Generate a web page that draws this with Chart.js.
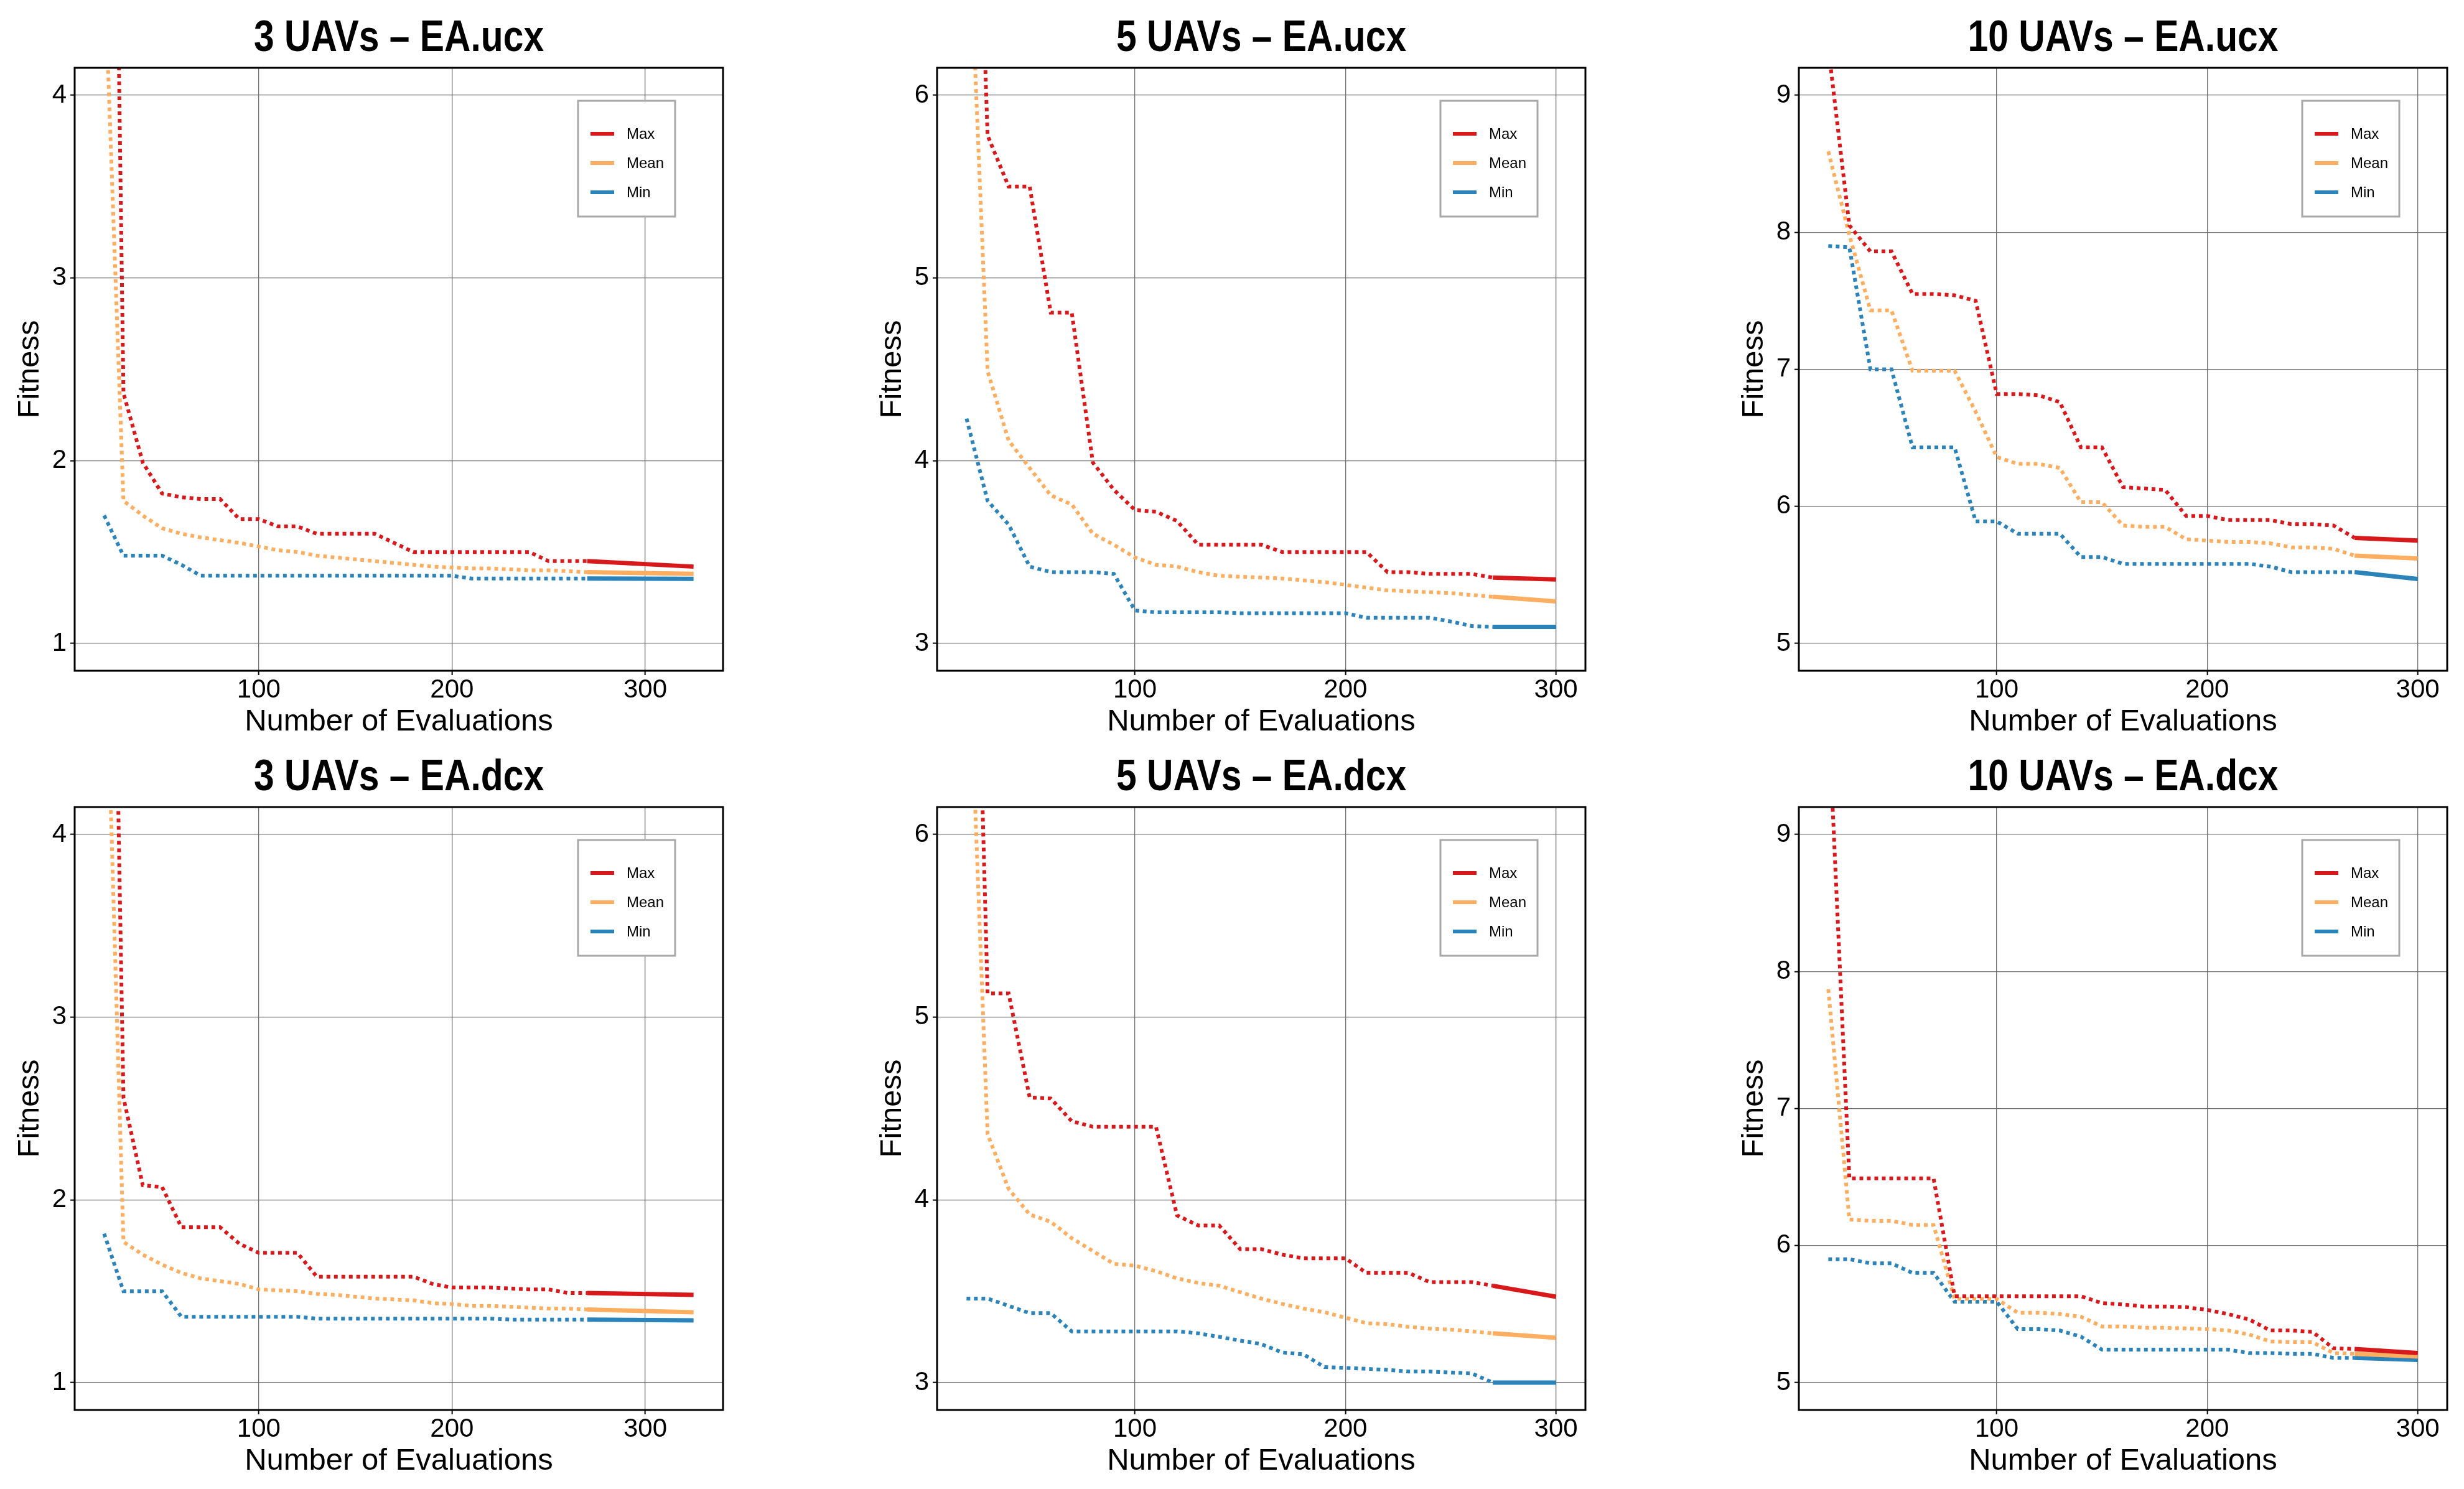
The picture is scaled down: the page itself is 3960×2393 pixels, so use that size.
<!DOCTYPE html>
<html>
<head>
<meta charset="utf-8">
<title>Fitness vs Number of Evaluations – EA.ucx / EA.dcx</title>
<script src="https://cdn.jsdelivr.net/npm/chart.js@4.4.1/dist/chart.umd.min.js"></script>
<style>
  html, body { margin: 0; padding: 0; background: #fff; }
  #figure { position: relative; width: 3960px; height: 2393px; overflow: hidden; }
  #figure canvas { position: absolute; }
</style>
</head>
<body>
<div id="figure"></div>
<script>
// =============================================================================
// DATA
// =============================================================================

// Number of evaluations at which each curve was sampled
const EVALS_3 = [20, 30, 40, 50, 60, 70, 80, 90, 100, 110, 120, 130, 140, 150, 160,
                 170, 180, 190, 200, 210, 220, 230, 240, 250, 260, 270, 325];
const EVALS_5 = [20, 30, 40, 50, 60, 70, 80, 90, 100, 110, 120, 130, 140, 150, 160,
                 170, 180, 190, 200, 210, 220, 230, 240, 250, 260, 270, 300];
const EVALS_10 = EVALS_5;

// 3 UAVs – EA.ucx
const UCX3_MAX  = [10.0, 2.37, 1.99, 1.82, 1.80, 1.79, 1.79, 1.68, 1.68, 1.64, 1.64, 1.60, 1.60, 1.60,
                   1.60, 1.55, 1.50, 1.50, 1.50, 1.50, 1.50, 1.50, 1.50, 1.45, 1.45, 1.45, 1.42];
const UCX3_MEAN = [4.75, 1.78, 1.70, 1.63, 1.60, 1.58, 1.565, 1.55, 1.53, 1.51, 1.50, 1.48, 1.47, 1.46,
                   1.45, 1.44, 1.43, 1.42, 1.415, 1.41, 1.41, 1.405, 1.40, 1.40, 1.395, 1.39, 1.38];
const UCX3_MIN  = [1.70, 1.48, 1.48, 1.48, 1.43, 1.37, 1.37, 1.37, 1.37, 1.37, 1.37, 1.37, 1.37, 1.37,
                   1.37, 1.37, 1.37, 1.37, 1.37, 1.355, 1.355, 1.355, 1.355, 1.355, 1.355, 1.355, 1.353];

// 5 UAVs – EA.ucx
const UCX5_MAX  = [9.2, 5.78, 5.50, 5.50, 4.81, 4.81, 3.99, 3.84, 3.73, 3.72, 3.67, 3.54, 3.54, 3.54,
                   3.54, 3.50, 3.50, 3.50, 3.50, 3.50, 3.39, 3.39, 3.38, 3.38, 3.38, 3.36, 3.35];
const UCX5_MEAN = [7.3, 4.49, 4.11, 3.96, 3.81, 3.76, 3.60, 3.54, 3.47, 3.43, 3.42, 3.39, 3.37, 3.365,
                   3.36, 3.355, 3.345, 3.335, 3.32, 3.305, 3.29, 3.285, 3.28, 3.275, 3.265, 3.255, 3.23];
const UCX5_MIN  = [4.23, 3.78, 3.65, 3.42, 3.39, 3.39, 3.39, 3.38, 3.18, 3.17, 3.17, 3.17, 3.17, 3.165,
                   3.165, 3.165, 3.165, 3.165, 3.165, 3.14, 3.14, 3.14, 3.14, 3.12, 3.095, 3.09, 3.09];

// 10 UAVs – EA.ucx
const UCX10_MAX  = [9.35, 8.05, 7.86, 7.86, 7.55, 7.55, 7.54, 7.50, 6.82, 6.82, 6.81, 6.76, 6.43, 6.43,
                    6.14, 6.13, 6.12, 5.93, 5.93, 5.90, 5.90, 5.90, 5.87, 5.87, 5.86, 5.77, 5.75];
const UCX10_MEAN = [8.59, 7.98, 7.43, 7.43, 6.99, 6.99, 6.99, 6.69, 6.36, 6.31, 6.31, 6.28, 6.03, 6.03,
                    5.86, 5.85, 5.85, 5.76, 5.75, 5.74, 5.74, 5.73, 5.70, 5.70, 5.69, 5.64, 5.62];
const UCX10_MIN  = [7.90, 7.89, 7.00, 7.00, 6.43, 6.43, 6.43, 5.89, 5.89, 5.80, 5.80, 5.80, 5.63, 5.63,
                    5.58, 5.58, 5.58, 5.58, 5.58, 5.58, 5.58, 5.56, 5.52, 5.52, 5.52, 5.52, 5.47];

// 3 UAVs – EA.dcx
const DCX3_MAX  = [8.5, 2.56, 2.08, 2.07, 1.85, 1.85, 1.85, 1.76, 1.71, 1.71, 1.71, 1.58, 1.58, 1.58,
                   1.58, 1.58, 1.58, 1.54, 1.52, 1.52, 1.52, 1.515, 1.51, 1.51, 1.49, 1.49, 1.48];
const DCX3_MEAN = [5.4, 1.77, 1.70, 1.645, 1.60, 1.57, 1.555, 1.54, 1.51, 1.505, 1.50, 1.485, 1.48, 1.47,
                   1.46, 1.455, 1.45, 1.435, 1.43, 1.42, 1.42, 1.415, 1.41, 1.405, 1.405, 1.40, 1.385];
const DCX3_MIN  = [1.815, 1.50, 1.50, 1.50, 1.36, 1.36, 1.36, 1.36, 1.36, 1.36, 1.36, 1.35, 1.35, 1.35,
                   1.35, 1.35, 1.35, 1.35, 1.35, 1.35, 1.35, 1.345, 1.345, 1.345, 1.345, 1.345, 1.34];

// 5 UAVs – EA.dcx
const DCX5_MAX  = [9.4, 5.13, 5.13, 4.56, 4.555, 4.43, 4.40, 4.40, 4.40, 4.40, 3.915, 3.86, 3.86, 3.73,
                   3.73, 3.70, 3.68, 3.68, 3.68, 3.60, 3.60, 3.60, 3.55, 3.55, 3.55, 3.53, 3.47];
const DCX5_MEAN = [7.4, 4.36, 4.06, 3.92, 3.88, 3.79, 3.72, 3.65, 3.64, 3.61, 3.57, 3.545, 3.53, 3.495,
                   3.46, 3.43, 3.405, 3.385, 3.355, 3.325, 3.32, 3.305, 3.295, 3.29, 3.28, 3.27, 3.245];
const DCX5_MIN  = [3.46, 3.46, 3.42, 3.38, 3.38, 3.28, 3.28, 3.28, 3.28, 3.28, 3.28, 3.27, 3.25, 3.23,
                   3.21, 3.165, 3.155, 3.085, 3.08, 3.075, 3.07, 3.06, 3.06, 3.055, 3.05, 3.0, 3.0];

// 10 UAVs – EA.dcx
const DCX10_MAX  = [9.9, 6.49, 6.49, 6.49, 6.49, 6.49, 5.63, 5.63, 5.63, 5.63, 5.63, 5.63, 5.63, 5.58,
                    5.57, 5.555, 5.555, 5.55, 5.53, 5.50, 5.46, 5.38, 5.38, 5.37, 5.25, 5.245, 5.215];
const DCX10_MEAN = [7.87, 6.19, 6.18, 6.18, 6.15, 6.15, 5.61, 5.61, 5.61, 5.51, 5.51, 5.50, 5.48, 5.41,
                    5.41, 5.40, 5.40, 5.395, 5.39, 5.38, 5.35, 5.30, 5.295, 5.295, 5.215, 5.21, 5.19];
const DCX10_MIN  = [5.90, 5.90, 5.87, 5.87, 5.80, 5.80, 5.59, 5.59, 5.59, 5.39, 5.39, 5.38, 5.335, 5.24,
                    5.24, 5.24, 5.24, 5.24, 5.24, 5.24, 5.215, 5.215, 5.21, 5.21, 5.18, 5.18, 5.165];

// Tick labels
const X_TICKS = [100, 200, 300];
const Y_TICKS_3 = [1, 2, 3, 4];
const Y_TICKS_5 = [3, 4, 5, 6];
const Y_TICKS_10 = [5, 6, 7, 8, 9];

const SERIES_LABELS = ['Max', 'Mean', 'Min'];

// Curves are dotted up to this evaluation count, solid afterwards
const SOLID_FROM = 270;

// =============================================================================
// STYLE & LAYOUT
// =============================================================================

const FONT = "'Liberation Sans', Arial, Helvetica, sans-serif";
const COLORS = ['#d7191c', '#fdae61', '#2b83ba'];
const GRID_COLOR = '#6e6e6e';
const DOTS = [6, 6];

const COL_LEFT = [120, 1506, 2891];   // left edge of each plot area
const ROW_TOP = [109, 1297];          // top edge of each plot area
const PLOT_W = 1042;
const PLOT_H = 969;
const AXIS_W = 120;                   // room for y tick labels + "Fitness"
const AXIS_H = 110;                   // room for x tick labels + axis title
const TITLE_H = 109;
const RIGHT_PAD = 20;

const PANELS = [
  { row: 0, col: 0, title: '3 UAVs – EA.ucx',  x: EVALS_3,  series: [UCX3_MAX, UCX3_MEAN, UCX3_MIN],    yMin: 0.85, yMax: 4.15, yTicks: Y_TICKS_3 },
  { row: 0, col: 1, title: '5 UAVs – EA.ucx',  x: EVALS_5,  series: [UCX5_MAX, UCX5_MEAN, UCX5_MIN],    yMin: 2.85, yMax: 6.15, yTicks: Y_TICKS_5 },
  { row: 0, col: 2, title: '10 UAVs – EA.ucx', x: EVALS_10, series: [UCX10_MAX, UCX10_MEAN, UCX10_MIN], yMin: 4.8,  yMax: 9.2,  yTicks: Y_TICKS_10 },
  { row: 1, col: 0, title: '3 UAVs – EA.dcx',  x: EVALS_3,  series: [DCX3_MAX, DCX3_MEAN, DCX3_MIN],    yMin: 0.85, yMax: 4.15, yTicks: Y_TICKS_3 },
  { row: 1, col: 1, title: '5 UAVs – EA.dcx',  x: EVALS_5,  series: [DCX5_MAX, DCX5_MEAN, DCX5_MIN],    yMin: 2.85, yMax: 6.15, yTicks: Y_TICKS_5 },
  { row: 1, col: 2, title: '10 UAVs – EA.dcx', x: EVALS_10, series: [DCX10_MAX, DCX10_MEAN, DCX10_MIN], yMin: 4.8,  yMax: 9.2,  yTicks: Y_TICKS_10 }
];

// =============================================================================
// PLUGINS
// =============================================================================

/**
 * Bold, slightly condensed panel title centred over the plot area
 */
const panelTitle = {
  id: 'panelTitle',
  afterDraw(chart, args, opts) {
    const { ctx, chartArea: a } = chart;
    ctx.save();
    ctx.font = 'bold 70px ' + FONT;
    ctx.fillStyle = '#000';
    ctx.textAlign = 'center';
    ctx.textBaseline = 'alphabetic';
    ctx.translate((a.left + a.right) / 2, a.top - 27);
    ctx.scale(0.84, 1);
    ctx.fillText(opts.text, 0, 0);
    ctx.restore();
  }
};

/**
 * Black frame round the plot area plus the boxed legend in the top right corner
 */
const frameAndLegend = {
  id: 'frameAndLegend',
  afterDatasetsDraw(chart) {
    const { ctx, chartArea: a } = chart;
    ctx.save();

    // frame
    ctx.strokeStyle = '#000';
    ctx.lineWidth = 3;
    ctx.strokeRect(a.left, a.top, a.right - a.left, a.bottom - a.top);

    // legend box
    const boxW = 156, boxH = 186;
    const bx = a.right - 233, by = a.top + 53;
    ctx.fillStyle = '#fff';
    ctx.fillRect(bx, by, boxW, boxH);
    ctx.strokeStyle = '#a8a8a8';
    ctx.lineWidth = 3;
    ctx.strokeRect(bx, by, boxW, boxH);

    ctx.font = '24px ' + FONT;
    ctx.textBaseline = 'middle';
    ctx.textAlign = 'left';
    chart.data.datasets.forEach((ds, i) => {
      const ly = by + 53 + i * 47;
      ctx.strokeStyle = ds.borderColor;
      ctx.lineWidth = 6;
      ctx.setLineDash([]);
      ctx.beginPath();
      ctx.moveTo(bx + 20, ly);
      ctx.lineTo(bx + 58, ly);
      ctx.stroke();
      ctx.fillStyle = '#000';
      ctx.fillText(ds.label, bx + 78, ly + 1);
    });
    ctx.restore();
  }
};

// =============================================================================
// CHART RENDERING
// =============================================================================

/**
 * Build one subplot on its own canvas
 */
function buildPanel(panel) {
  const canvas = document.createElement('canvas');
  const w = AXIS_W + PLOT_W + RIGHT_PAD;
  const h = TITLE_H + PLOT_H + AXIS_H;
  canvas.width = w;
  canvas.height = h;
  canvas.style.width = w + 'px';
  canvas.style.height = h + 'px';
  canvas.style.left = (COL_LEFT[panel.col] - AXIS_W) + 'px';
  canvas.style.top = (ROW_TOP[panel.row] - TITLE_H) + 'px';
  document.getElementById('figure').appendChild(canvas);

  const xFirst = panel.x[0];
  const xLast = panel.x[panel.x.length - 1];
  const xPad = (xLast - xFirst) * 0.05;

  const datasets = panel.series.map((values, i) => ({
    label: SERIES_LABELS[i],
    data: panel.x.map((x, j) => ({ x: x, y: values[j] })),
    borderColor: COLORS[i],
    backgroundColor: COLORS[i],
    borderWidth: 6,
    borderDash: DOTS,
    borderCapStyle: 'butt',
    pointRadius: 0,
    tension: 0,
    clip: 0,
    segment: {
      borderDash: (c) => (c.p0.parsed.x >= SOLID_FROM ? [] : DOTS),
      borderWidth: (c) => (c.p0.parsed.x >= SOLID_FROM ? 7 : 6)
    }
  }));

  const tickFont = { family: FONT, size: 42, lineHeight: 1 };
  const labelFont = { family: FONT, size: 49, lineHeight: 1 };

  return new Chart(canvas, {
    type: 'line',
    data: { datasets: datasets },
    options: {
      responsive: false,
      animation: false,
      devicePixelRatio: 1,
      events: [],
      layout: { padding: { left: 0, top: TITLE_H, right: RIGHT_PAD, bottom: 0 } },
      plugins: {
        legend: { display: false },
        tooltip: { enabled: false },
        title: { display: false },
        panelTitle: { text: panel.title }
      },
      scales: {
        x: {
          type: 'linear',
          min: xFirst - xPad,
          max: xLast + xPad,
          afterBuildTicks: (s) => { s.ticks = X_TICKS.map(v => ({ value: v })); },
          afterFit: (s) => { s.height = AXIS_H; },
          border: { display: false },
          grid: { color: GRID_COLOR, lineWidth: 1.3, drawTicks: true, tickLength: 7, tickColor: '#000', tickWidth: 2 },
          ticks: { color: '#000', font: tickFont, padding: 3, maxRotation: 0, autoSkip: false, callback: (v) => String(v) },
          title: { display: true, text: 'Number of Evaluations', color: '#000', font: labelFont, padding: { top: 0, bottom: 3 } }
        },
        y: {
          min: panel.yMin,
          max: panel.yMax,
          afterBuildTicks: (s) => { s.ticks = panel.yTicks.map(v => ({ value: v })); },
          afterFit: (s) => { s.width = AXIS_W; },
          border: { display: false },
          grid: { color: GRID_COLOR, lineWidth: 1.3, drawTicks: true, tickLength: 7, tickColor: '#000', tickWidth: 2 },
          ticks: { color: '#000', font: tickFont, padding: 6, autoSkip: false, callback: (v) => String(v) },
          title: { display: true, text: 'Fitness', color: '#000', font: labelFont, padding: { top: 24, bottom: 0 } }
        }
      }
    },
    plugins: [frameAndLegend, panelTitle]
  });
}

PANELS.forEach(buildPanel);
</script>
</body>
</html>
